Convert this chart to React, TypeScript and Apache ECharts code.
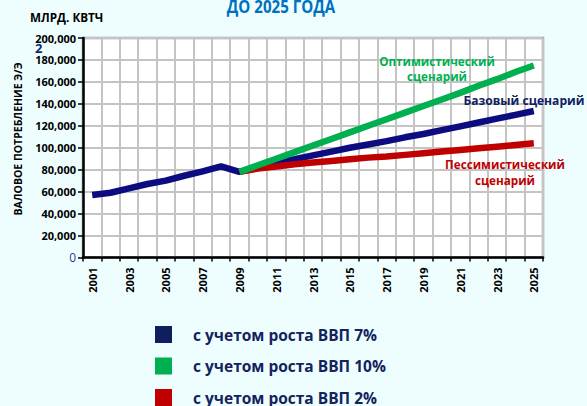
import React, { useEffect, useRef } from "react";
import * as echarts from "echarts";

const years = ["2001","2002","2003","2004","2005","2006","2007","2008","2009","2010","2011","2012","2013","2014","2015","2016","2017","2018","2019","2020","2021","2022","2023","2024","2025"];
const baseSeries = [57000, 59000, 63000, 67000, 70000, 74500, 78500, 83000, 78000, 82000, 86500, 89500, 93000, 96500, 100000, 103000, 106000, 109500, 112500, 116000, 119500, 123000, 126500, 130000, 133500];
const optimisticSeries = [null, null, null, null, null, null, null, null, 78000, 84000, 90000, 96000, 102000, 108000, 114000, 120000, 126000, 132000, 138000, 144000, 150000, 156500, 162500, 169000, 175000];
const pessimisticSeries = [null, null, null, null, null, null, null, null, 78000, 81000, 83000, 85000, 86500, 88000, 89500, 91000, 92000, 93500, 95000, 96500, 98000, 99500, 101000, 102500, 104000];
const legendNames = ["с учетом роста ВВП 7%", "с учетом роста ВВП 10%", "с учетом роста ВВП 2%"];

const FONT = "Open Sans";

function label(text: string, x: number, y: number, color: string, size: number, sx: number, lineHeight?: number, align = "center") {
  return {
    type: "text",
    x,
    y,
    scaleX: sx,
    z: 100,
    style: {
      text,
      x: 0,
      y: 0,
      textAlign: align,
      textVerticalAlign: "middle",
      lineHeight,
      fill: color,
      font: `bold ${size}px "${FONT}"`,
    },
  };
}

export default function App() {
  const ref = useRef<HTMLDivElement>(null);
  useEffect(() => {
    const chart = echarts.init(ref.current!, null, { renderer: "svg" });
    chart.setOption({
      animation: false,
      backgroundColor: "#eefefe",
      grid: {
        left: 83,
        right: 44,
        top: 38,
        bottom: 148.5,
        show: true,
        backgroundColor: "#ffffff",
        borderColor: "#9a9a9a",
        borderWidth: 2.5,
      },
      xAxis: {
        type: "category",
        data: years,
        boundaryGap: true,
        axisLine: { show: true, lineStyle: { color: "#000", width: 2.5 } },
        axisTick: { show: true, interval: 0, length: 4, lineStyle: { color: "#000", width: 1.5 } },
        axisLabel: {
          interval: 1,
          rotate: 90,
          margin: 10,
          color: "#000",
          fontFamily: FONT,
          fontWeight: "bold",
          fontSize: 11,
        },
        splitLine: { show: true, interval: 0, lineStyle: { color: "#c4c4c4", width: 2 } },
      },
      yAxis: {
        type: "value",
        min: 0,
        max: 200000,
        interval: 20000,
        axisLine: { show: true, lineStyle: { color: "#000", width: 2.5 } },
        axisTick: { show: true, length: 5, lineStyle: { color: "#000", width: 1.5 } },
        axisLabel: {
          margin: 7,
          color: "#000",
          fontFamily: FONT,
          fontWeight: "bold",
          fontSize: 11,
          formatter: (v: number) =>
            v === 0 ? "{z|0}" : v.toLocaleString("en-US"),
          rich: {
            z: { color: "#1f3c8c", fontFamily: FONT, fontWeight: "normal", fontSize: 12 },
          },
        },
        splitLine: { show: true, lineStyle: { color: "#c4c4c4", width: 2 } },
      },
      legend: {
        orient: "vertical",
        left: 155,
        top: 326,
        height: 200,
        padding: 0,
        itemWidth: 17,
        itemHeight: 17,
        itemGap: 14.5,
        icon: "rect",
        data: legendNames,
        textStyle: {
          color: "#14225e",
          fontFamily: FONT,
          fontWeight: "bold",
          fontSize: 15.5,
          padding: [0, 0, 0, 16],
        },
      },
      series: [
        {
          name: legendNames[0],
          type: "line",
          data: baseSeries,
          symbol: "none",
          itemStyle: { color: "#0f1f5e" },
          lineStyle: { color: "#0c0c80", width: 6.5 },
          z: 3,
        },
        {
          name: legendNames[2],
          type: "line",
          data: pessimisticSeries,
          symbol: "none",
          itemStyle: { color: "#c00000" },
          lineStyle: { color: "#c00000", width: 6.5 },
          z: 4,
        },
        {
          name: legendNames[1],
          type: "line",
          data: optimisticSeries,
          symbol: "none",
          itemStyle: { color: "#00b050" },
          lineStyle: { color: "#00b050", width: 6.5 },
          z: 5,
        },
      ],
      graphic: [
        label("ДО 2025 ГОДА", 281, 6, "#0070c0", 18, 0.84),
        label("МЛРД. КВТЧ", 30, 17, "#000", 13, 0.9, undefined, "left"),
        label("2", 35, 48, "#0f2a6e", 13, 1, undefined, "left"),
        {
          type: "text",
          x: 17.5,
          y: 139,
          rotation: Math.PI / 2,
          z: 100,
          style: {
            text: "ВАЛОВОЕ ПОТРЕБЛЕНИЕ Э/Э",
            x: 0,
            y: 0,
            textAlign: "center",
            textVerticalAlign: "middle",
            fill: "#000",
            font: `bold 10.5px "${FONT}"`,
          },
        },
        label("Оптимистический\nсценарий", 437, 69, "#00b050", 13, 0.9, 15),
        label("Базовый сценарий", 524, 100, "#0f2060", 13, 0.93),
        label("Пессимистический\nсценарий", 505, 172, "#c00000", 13, 0.9, 16),
      ],
    });
    return () => chart.dispose();
  }, []);
  return (
    <div
      ref={ref}
      style={{ position: "fixed", left: 0, top: 0, width: 587, height: 406 }}
    />
  );
}
